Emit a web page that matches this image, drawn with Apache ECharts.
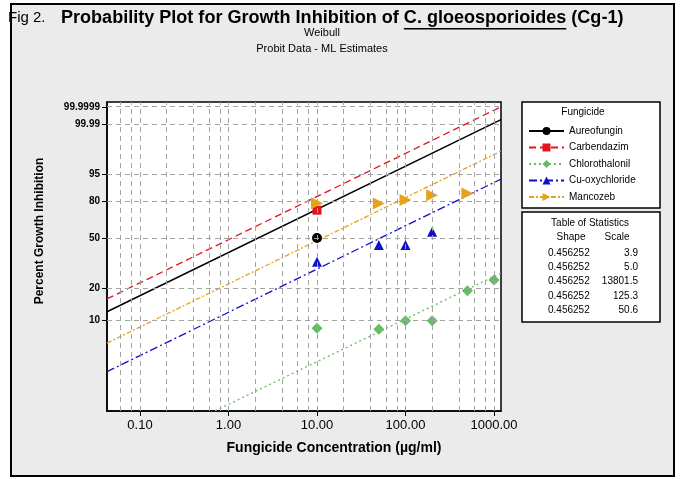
<!DOCTYPE html>
<html><head><meta charset="utf-8">
<script src="https://cdn.jsdelivr.net/npm/echarts@6/dist/echarts.min.js"></script>
<style>html,body{margin:0;padding:0;background:#fff}#c{width:681px;height:479px}</style>
</head><body><div id="c"></div>
<script>
// ---------- data ----------
const fungicides = ['Aureofungin', 'Carbendazim', 'Chlorothalonil', 'Cu-oxychloride', 'Mancozeb'];

// observed points (concentration µg/ml, percent inhibition)
const aureofunginX = [10];
const aureofunginY = [50];
const carbendazimX = [10];
const carbendazimY = [73];
const chlorothalonilX = [10, 50, 100, 200, 500, 1000];
const chlorothalonilY = [8.5, 8.3, 10.0, 10.0, 18.8, 23.4];
const cuoxychlorideX = [10, 50, 100, 200];
const cuoxychlorideY = [33.2, 44.6, 44.6, 55.1];
const mancozebX = [10, 50, 100, 200, 500];
const mancozebY = [78.5, 78.3, 80.8, 84.2, 85.3];

// fitted Weibull lines, read at the plot's x limits
const fitX = [0.0424, 1200];
const aureofunginFit = [12.13, 99.9967];
const carbendazimFit = [15.9, 99.9999];
const chlorothalonilFit = [0.411, 26.8];
const cuoxychlorideFit = [3.24, 93.0];
const mancozebFit = [6.13, 99.35];

// table of statistics
const shapeValues = ['0.456252', '0.456252', '0.456252', '0.456252', '0.456252'];
const scaleValues = ['3.9', '5.0', '13801.5', '125.3', '50.6'];

// axes
const xRange = [0.0424, 1200];
const yRangePct = [1.335, 99.99998];
const yTicks = [10, 20, 50, 80, 95, 99.99, 99.9999];
const yTickLabels = ['10', '20', '50', '80', '95', '99.99', '99.9999'];
const xGridValues = [0.06, 0.08, 0.1, 0.2, 0.4, 0.6, 0.8, 1, 2, 4, 6, 8, 10, 20, 40, 60, 80, 100, 200, 400, 600, 800, 1000];

// ---------- helpers ----------
const W = p => Math.log(-Math.log(1 - p / 100));   // Weibull probability scale
const FONT = '"Liberation Sans", Arial, sans-serif';
const NARROW = '"Liberation Sans Narrow", "Liberation Sans", Arial, sans-serif';

const colors = ['#000000', '#e3141b', '#66bb66', '#1010c8', '#e6a21c'];
const symbols = ['circle', 'rect', 'diamond', 'triangle', 'triangle'];
const symbolRot = [0, 0, 0, 0, -90];
const symbolSizes = [10, 9, 11, 10, 12];
const lineTypes = ['solid', [7, 4], [2, 3], [8, 3, 2, 3], [5, 2, 2, 2]];
const lineWidths = [1.5, 1.3, 1.3, 1.3, 1.3];

const ptsX = [aureofunginX, carbendazimX, chlorothalonilX, cuoxychlorideX, mancozebX];
const ptsY = [aureofunginY, carbendazimY, chlorothalonilY, cuoxychlorideY, mancozebY];
const fits = [aureofunginFit, carbendazimFit, chlorothalonilFit, cuoxychlorideFit, mancozebFit];

const series = [];
series.push({
  type: 'line', name: '_grid', data: [], z: 1, silent: true,
  markLine: {
    silent: true, symbol: ['none', 'none'], label: { show: false }, animation: false,
    lineStyle: { color: '#a4a4a4', type: [5, 4], width: 1 },
    emphasis: { disabled: true },
    data: xGridValues.map(v => ({ xAxis: v })).concat(yTicks.map(t => ({ yAxis: W(t) })))
  }
});
fungicides.forEach((name, i) => {
  series.push({
    type: 'line', name, z: 3, silent: true,
    data: fitX.map((x, j) => [x, W(fits[i][j])]),
    showSymbol: false, symbol: symbols[i], symbolRotate: symbolRot[i],
    lineStyle: { color: colors[i], width: lineWidths[i], type: lineTypes[i] },
    itemStyle: { color: colors[i] }
  });
});
fungicides.forEach((name, i) => {
  series.push({
    type: 'scatter', name, z: 4, silent: true,
    data: ptsX[i].map((x, j) => [x, W(ptsY[i][j])]),
    symbol: symbols[i], symbolRotate: symbolRot[i], symbolSize: symbolSizes[i],
    itemStyle: { color: colors[i], opacity: 1 }
  });
});

// ---------- title layout (measured) ----------
const ctx = document.createElement('canvas').getContext('2d');
const tw = (t, f) => { ctx.font = f; return ctx.measureText(t).width; };
const t1 = 'Probability Plot for Growth Inhibition of ', t2 = 'C. gloeosporioides', t3 = ' (Cg-1)';
const total16 = tw(t1 + t2 + t3, 'bold 16px ' + FONT);
const fs = 16 * 563 / total16;
const tf = 'bold ' + fs + 'px ' + FONT;
const w1 = tw(t1, tf), w2 = tw(t2, tf);
const tx = 61, ty = 18;

const txt = (x, y, text, size, opts = {}) => ({
  type: 'text', x, y, silent: true, z: 50,
  style: Object.assign({ text, fill: '#000', fontSize: size, fontFamily: FONT, align: 'center', verticalAlign: 'middle' }, opts)
});

const graphics = [
  { type: 'rect', z: -100, silent: true, shape: { x: 11, y: 4, width: 663, height: 472 }, style: { fill: '#ebebeb', stroke: '#000', lineWidth: 2 } },
  txt(8, ty, 'Fig 2.', 15, { align: 'left', fontFamily: NARROW }),
  txt(tx, ty, t1, fs, { align: 'left', fontWeight: 'bold' }),
  txt(tx + w1, ty, t2, fs, { align: 'left', fontWeight: 'bold' }),
  txt(tx + w1 + w2, ty, t3, fs, { align: 'left', fontWeight: 'bold' }),
  { type: 'rect', z: 50, silent: true, shape: { x: tx + w1, y: ty + fs * 0.55, width: w2, height: 1.5 }, style: { fill: '#000' } },
  txt(322, 33, 'Weibull', 11),
  txt(322, 49, 'Probit Data - ML Estimates', 11),
  txt(40, 231, 'Percent Growth Inhibition', 12, { fontWeight: 'bold' }),
  txt(334, 448, 'Fungicide Concentration (µg/ml)', 14, { fontWeight: 'bold' }),
  // legend box
  { type: 'rect', z: 20, silent: true, shape: { x: 522, y: 102, width: 138, height: 106 }, style: { fill: '#fff', stroke: '#000', lineWidth: 1.5 } },
  txt(583, 112, 'Fungicide', 10),
  // table box
  { type: 'rect', z: 20, silent: true, shape: { x: 522, y: 212, width: 138, height: 110 }, style: { fill: '#fff', stroke: '#000', lineWidth: 1.5 } },
  txt(590, 223, 'Table of Statistics', 10),
  txt(571, 237, 'Shape', 10),
  txt(617, 237, 'Scale', 10)
];
graphics[8].rotation = Math.PI / 2;
shapeValues.forEach((s, i) => {
  graphics.push(txt(548, 253 + i * 14.3, s, 10, { align: 'left' }));
  graphics.push(txt(638, 253 + i * 14.3, scaleValues[i], 10, { align: 'right' }));
});

const option = {
  animation: false,
  backgroundColor: '#ffffff',
  grid: { left: 107, top: 102, width: 394, height: 309, show: true, backgroundColor: '#fff', borderColor: '#000', borderWidth: 1.5 },
  xAxis: {
    type: 'log', logBase: 10, min: xRange[0], max: xRange[1],
    axisLine: { show: true, onZero: false, lineStyle: { color: '#000', width: 1.5 } },
    axisTick: { show: true, inside: false, length: 5, lineStyle: { color: '#000' } },
    axisLabel: { margin: 8, fontSize: 13, color: '#000', fontFamily: FONT, showMinLabel: false, showMaxLabel: false,
      formatter: v => Number(v).toFixed(2) },
    splitLine: { show: false }, minorTick: { show: false }
  },
  yAxis: {
    type: 'value', min: W(yRangePct[0]), max: W(yRangePct[1]),
    axisLine: { show: true, onZero: false, lineStyle: { color: '#000', width: 1.5 } },
    axisTick: { show: true, inside: false, length: 5, lineStyle: { color: '#000' }, customValues: yTicks.map(W) },
    axisLabel: { margin: 7, fontSize: 10, fontWeight: 'bold', color: '#000', fontFamily: FONT,
      customValues: yTicks.map(W),
      formatter: v => { let best = 0; yTicks.forEach((t, i) => { if (Math.abs(W(t) - v) < Math.abs(W(yTicks[best]) - v)) best = i; }); return yTickLabels[best]; } },
    splitLine: { show: false }
  },
  legend: {
    data: fungicides, orient: 'vertical', left: 528, top: 126, padding: 0,
    itemGap: 6.5, itemWidth: 35, itemHeight: 10, selectedMode: false, z: 30,
    textStyle: { fontSize: 10, color: '#000', fontFamily: FONT }
  },
  graphic: graphics,
  series
};
const chart = echarts.init(document.getElementById('c'));
chart.setOption(option);
</script></body></html>
